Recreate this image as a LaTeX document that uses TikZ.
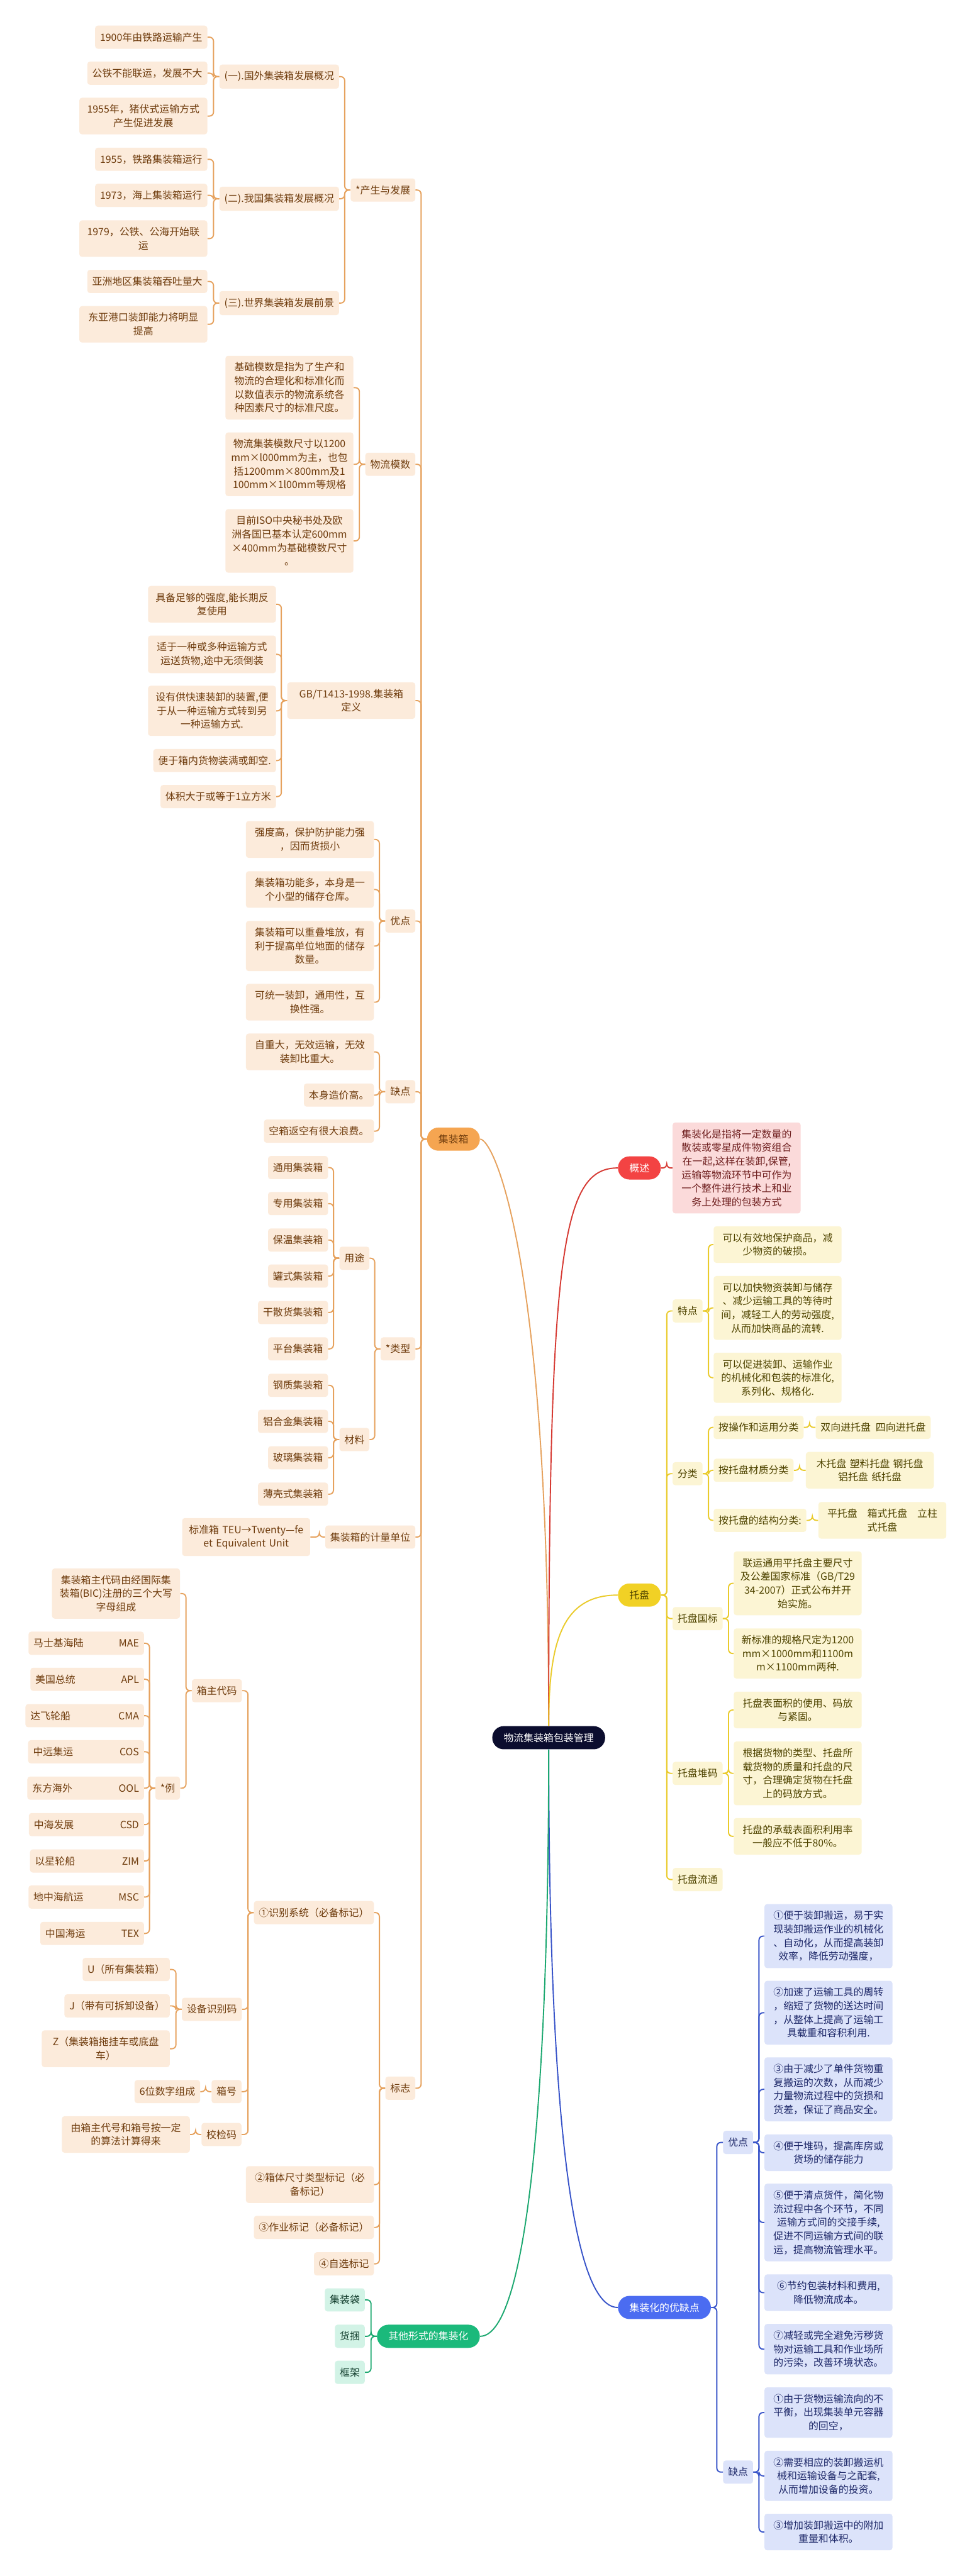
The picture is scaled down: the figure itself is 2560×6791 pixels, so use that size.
\documentclass[tikz,border=0pt]{standalone}
\usepackage{fontspec}
\setmainfont{Noto Sans CJK SC}

\definecolor{rootc}{HTML}{0B0D2E}
\definecolor{orgline}{HTML}{E6A25E}
\definecolor{orgfill}{HTML}{FCEBDB}
\definecolor{orgtext}{HTML}{6E3B0C}
\definecolor{orgpill}{HTML}{F5A551}
\definecolor{redline}{HTML}{D63A33}
\definecolor{redpill}{HTML}{F34343}
\definecolor{redfill}{HTML}{FBDADA}
\definecolor{redtext}{HTML}{6E1E1E}
\definecolor{yelline}{HTML}{EACB2C}
\definecolor{yelpill}{HTML}{F1D125}
\definecolor{yelfill}{HTML}{FCF5D4}
\definecolor{yeltext}{HTML}{4F4400}
\definecolor{bluline}{HTML}{3854C9}
\definecolor{blupill}{HTML}{4B6CF1}
\definecolor{blufill}{HTML}{DCE3FA}
\definecolor{blutext}{HTML}{1D2768}
\definecolor{grnline}{HTML}{1CA870}
\definecolor{grnpill}{HTML}{1BB97B}
\definecolor{grnfill}{HTML}{D2F3E6}
\definecolor{grntext}{HTML}{0F3B2A}

\tikzset{
  box/.style={rounded corners=2pt, inner xsep=0.13cm, inner ysep=0.18cm,
    minimum height=0.61cm, align=center, font=\fontsize{7.5}{10.2}\selectfont},
  wbox/.style={text width=3.11cm},
  pill/.style={box, rounded corners=0.3cm, inner xsep=0.3cm},
  orleaf/.style={box, anchor=east, fill=orgfill, text=orgtext},
  grleaf/.style={box, anchor=east, fill=grnfill, text=grntext},
  rdleaf/.style={box, anchor=west, fill=redfill, text=redtext},
  yeleaf/.style={box, anchor=west, fill=yelfill, text=yeltext},
  buleaf/.style={box, anchor=west, fill=blufill, text=blutext},
  orlink/.style={draw=orgline, line width=0.9pt, rounded corners=3pt},
  rdlink/.style={draw=redline, line width=0.9pt, rounded corners=3pt},
  yelink/.style={draw=yelline, line width=0.9pt, rounded corners=3pt},
  bulink/.style={draw=bluline, line width=0.9pt, rounded corners=3pt},
  grlink/.style={draw=grnline, line width=0.9pt, rounded corners=3pt},
}
\newcommand{\linkL}[3]{\draw[#1] (#2.west) -- ++(-15,0) |- (#3.east);}
\newcommand{\linkR}[3]{\draw[#1] (#2.east) -- ++(15,0) |- (#3.west);}
\newcommand{\cmp}[3][2.78cm]{\makebox[#1]{#2\hfill #3}}

\begin{document}
\begin{tikzpicture}[x=0.01cm, y=-0.01cm]
	\fill[white] (0,0) rectangle (2560,6791);
	\useasboundingbox (0,0) rectangle (2560,6791);

	% root and main branches
	\node (root) at (1446,4581) [pill, fill=rootc, text=white] {物流集装箱包装管理};
	\node (jzx) at (1195,3003) [pill, fill=orgpill, text=orgtext] {集装箱};
	\node (qt) at (1129,6159) [pill, fill=grnpill, text=white] {其他形式的集装化};
	\node (gs) at (1685,3079) [pill, fill=redpill, text=white] {概述};
	\node (tp) at (1685,4205) [pill, fill=yelpill, text=yeltext] {托盘};
	\node (yqd) at (1751,6083) [pill, fill=blupill, text=white] {集装化的优缺点};

	% 集装箱
	\node (cs) at (1095,501) [orleaf] {*产生与发展};
	\node (mo) at (1095,1224) [orleaf] {物流模数};
	\node (gb) at (1095,1847) [orleaf, wbox] {GB/T1413-1998.集装箱\\定义};
	\node (yd) at (1095,2428) [orleaf] {优点};
	\node (qd) at (1095,2878) [orleaf] {缺点};
	\node (lx) at (1095,3556) [orleaf] {*类型};
	\node (jl) at (1095,4052) [orleaf] {集装箱的计量单位};
	\node (bz) at (1095,5505) [orleaf] {标志};

	\node (gw) at (894,202) [orleaf] {(一).国外集装箱发展概况};
	\node (wg) at (894,524) [orleaf] {(二).我国集装箱发展概况};
	\node (sj) at (894,799) [orleaf] {(三).世界集装箱发展前景};
	\node (a1) at (547,98) [orleaf] {1900年由铁路运输产生};
	\node (a2) at (547,193) [orleaf] {公铁不能联运，发展不大};
	\node (a3) at (547,306) [orleaf, wbox] {1955年，猪伏式运输方式\\产生促进发展};
	\node (b1) at (547,420) [orleaf] {1955，铁路集装箱运行};
	\node (b2) at (547,515) [orleaf] {1973，海上集装箱运行};
	\node (b3) at (547,629) [orleaf, wbox] {1979，公铁、公海开始联\\运};
	\node (c1) at (547,742) [orleaf] {亚洲地区集装箱吞吐量大};
	\node (c2) at (547,855) [orleaf, wbox] {东亚港口装卸能力将明显\\提高};

	\node (m1) at (932,1022) [orleaf, wbox] {基础模数是指为了生产和\\物流的合理化和标准化而\\以数值表示的物流系统各\\种因素尺寸的标准尺度。};
	\node (m2) at (932,1224) [orleaf, wbox] {物流集装模数尺寸以1200\\mm×l000mm为主，也包\\括1200mm×800mm及1\\100mm×1l00mm等规格};
	\node (m3) at (932,1426) [orleaf, wbox] {目前ISO中央秘书处及欧\\洲各国已基本认定600mm\\×400mm为基础模数尺寸\\。};

	\node (g1) at (728,1593) [orleaf, wbox] {具备足够的强度,能长期反\\复使用};
	\node (g2) at (728,1725) [orleaf, wbox] {适于一种或多种运输方式\\运送货物,途中无须倒装};
	\node (g3) at (728,1874) [orleaf, wbox] {设有供快速装卸的装置,便\\于从一种运输方式转到另\\一种运输方式.};
	\node (g4) at (728,2005) [orleaf] {便于箱内货物装满或卸空.};
	\node (g5) at (728,2100) [orleaf] {体积大于或等于1立方米};

	\node (y1) at (986,2213) [orleaf, wbox] {强度高，保护防护能力强\\，因而货损小};
	\node (y2) at (986,2345) [orleaf, wbox] {集装箱功能多，本身是一\\个小型的储存仓库。};
	\node (y3) at (986,2494) [orleaf, wbox] {集装箱可以重叠堆放，有\\利于提高单位地面的储存\\数量。};
	\node (y4) at (986,2642) [orleaf, wbox] {可统一装卸，通用性，互\\换性强。};
	\node (q1) at (986,2773) [orleaf, wbox] {自重大，无效运输，无效\\装卸比重大。};
	\node (q2) at (986,2887) [orleaf] {本身造价高。};
	\node (q3) at (986,2982) [orleaf] {空箱返空有很大浪费。};

	\node (yt) at (974,3317) [orleaf] {用途};
	\node (cl) at (974,3795) [orleaf] {材料};
	\node (ty1) at (865,3078) [orleaf] {通用集装箱};
	\node (ty2) at (865,3173) [orleaf] {专用集装箱};
	\node (ty3) at (865,3269) [orleaf] {保温集装箱};
	\node (ty4) at (865,3364) [orleaf] {罐式集装箱};
	\node (ty5) at (865,3460) [orleaf] {干散货集装箱};
	\node (ty6) at (865,3556) [orleaf] {平台集装箱};
	\node (cz1) at (865,3652) [orleaf] {钢质集装箱};
	\node (cz2) at (865,3747) [orleaf] {铝合金集装箱};
	\node (cz3) at (865,3843) [orleaf] {玻璃集装箱};
	\node (cz4) at (865,3939) [orleaf] {薄壳式集装箱};

	\node (teu) at (818,4052) [orleaf, wbox] {标准箱 TEU→Twenty—fe\\et Equivalent Unit};

	\node (sb) at (986,5042) [orleaf] {①识别系统（必备标记）};
	\node (ct) at (986,5759) [orleaf, wbox] {②箱体尺寸类型标记（必\\备标记）};
	\node (zy) at (986,5872) [orleaf] {③作业标记（必备标记）};
	\node (zx) at (986,5968) [orleaf] {④自选标记};
	\node (xz) at (638,4457) [orleaf] {箱主代码};
	\node (sbm) at (638,5297) [orleaf] {设备识别码};
	\node (xh) at (637,5514) [orleaf] {箱号};
	\node (jy) at (637,5627) [orleaf] {校检码};
	\node (zdm) at (475,4201) [orleaf, wbox] {集装箱主代码由经国际集\\装箱(BIC)注册的三个大写\\字母组成};
	\node (li) at (475,4714) [orleaf] {*例};
	\node (mae) at (380,4332) [orleaf] {\cmp{马士基海陆}{MAE}};
	\node (apl) at (380,4427) [orleaf] {\cmp[2.73cm]{美国总统}{APL}};
	\node (cma) at (380,4523) [orleaf] {\cmp[2.86cm]{达飞轮船}{CMA}};
	\node (cos) at (380,4618) [orleaf] {\cmp[2.79cm]{中远集运}{COS}};
	\node (ool) at (380,4714) [orleaf] {\cmp[2.81cm]{东方海外}{OOL}};
	\node (csd) at (380,4810) [orleaf] {\cmp[2.77cm]{中海发展}{CSD}};
	\node (zim) at (380,4906) [orleaf] {\cmp[2.74cm]{以星轮船}{ZIM}};
	\node (msc) at (380,5001) [orleaf] {\cmp{地中海航运}{MSC}};
	\node (tex) at (380,5097) [orleaf] {\cmp[2.47cm]{中国海运}{TEX}};
	\node (ue) at (448,5192) [orleaf] {U（所有集装箱）};
	\node (je) at (448,5288) [orleaf] {J（带有可拆卸设备）};
	\node (ze) at (448,5401) [orleaf, wbox] {Z（集装箱拖挂车或底盘\\车）};
	\node (sw) at (528,5514) [orleaf] {6位数字组成};
	\node (sf) at (501,5627) [orleaf, wbox] {由箱主代号和箱号按一定\\的算法计算得来};

	% 其他形式的集装化
	\node (dai) at (962,6063) [grleaf] {集装袋};
	\node (kun) at (962,6159) [grleaf] {货捆};
	\node (kj) at (962,6254) [grleaf] {框架};

	% 概述
	\node (gsz) at (1772,3079) [rdleaf, wbox] {集装化是指将一定数量的\\散装或零星成件物资组合\\在一起,这样在装卸,保管,\\运输等物流环节中可作为\\一个整件进行技术上和业\\务上处理的包装方式};

	% 托盘
	\node (td) at (1772,3456) [yeleaf] {特点};
	\node (fl) at (1772,3885) [yeleaf] {分类};
	\node (gbz) at (1772,4267) [yeleaf] {托盘国标};
	\node (dm) at (1772,4675) [yeleaf] {托盘堆码};
	\node (lt) at (1772,4955) [yeleaf] {托盘流通};
	\node (t1) at (1880,3281) [yeleaf, wbox] {可以有效地保护商品，减\\少物资的破损。};
	\node (t2) at (1880,3448) [yeleaf, wbox] {可以加快物资装卸与储存\\、减少运输工具的等待时\\间，减轻工人的劳动强度,\\从而加快商品的流转.};
	\node (t3) at (1880,3632) [yeleaf, wbox] {可以促进装卸、运输作业\\的机械化和包装的标准化,\\系列化、规格化.};
	\node (f1) at (1880,3763) [yeleaf] {按操作和运用分类};
	\node (f2) at (1880,3876) [yeleaf] {按托盘材质分类};
	\node (f3) at (1880,4008) [yeleaf] {按托盘的结构分类:};
	\node (f1a) at (2149,3763) [yeleaf] {双向进托盘\enspace 四向进托盘};
	\node (f2a) at (2123,3876) [yeleaf, wbox] {木托盘 塑料托盘 钢托盘\\铝托盘 纸托盘};
	\node (f3a) at (2156,4008) [yeleaf, wbox] {平托盘\quad 箱式托盘\quad 立柱\\式托盘};
	\node (p1) at (1933,4174) [yeleaf, wbox] {联运通用平托盘主要尺寸\\及公差国家标准（GB/T29\\34-2007）正式公布并开\\始实施。};
	\node (p2) at (1933,4359) [yeleaf, wbox] {新标准的规格尺定为1200\\mm×1000mm和1100m\\m×1100mm两种.};
	\node (d1) at (1933,4508) [yeleaf, wbox] {托盘表面积的使用、码放\\与紧固。};
	\node (d2) at (1933,4675) [yeleaf, wbox] {根据货物的类型、托盘所\\载货物的质量和托盘的尺\\寸，合理确定货物在托盘\\上的码放方式。};
	\node (d3) at (1933,4841) [yeleaf, wbox] {托盘的承载表面积利用率\\一般应不低于80\%。};

	% 集装化的优缺点
	\node (byd) at (1905,5648) [buleaf] {优点};
	\node (bqd) at (1905,6517) [buleaf] {缺点};
	\node (w1) at (2014,5104) [buleaf, wbox] {①便于装卸搬运，易于实\\现装卸搬运作业的机械化\\、自动化，从而提高装卸\\效率，降低劳动强度，};
	\node (w2) at (2014,5306) [buleaf, wbox] {②加速了运输工具的周转\\，缩短了货物的送达时间\\，从整体上提高了运输工\\具载重和容积利用.};
	\node (w3) at (2014,5508) [buleaf, wbox] {③由于减少了单件货物重\\复搬运的次数，从而减少\\力量物流过程中的货损和\\货差，保证了商品安全。};
	\node (w4) at (2014,5675) [buleaf, wbox] {④便于堆码，提高库房或\\货场的储存能力};
	\node (w5) at (2014,5859) [buleaf, wbox] {⑤便于清点货件，简化物\\流过程中各个环节，不同\\运输方式间的交接手续,\\促进不同运输方式间的联\\运，提高物流管理水平。};
	\node (w6) at (2014,6044) [buleaf, wbox] {⑥节约包装材料和费用,\\降低物流成本。};
	\node (w7) at (2014,6193) [buleaf, wbox] {⑦减轻或完全避免污秽货\\物对运输工具和作业场所\\的污染，改善环境状态。};
	\node (v1) at (2014,6360) [buleaf, wbox] {①由于货物运输流向的不\\平衡，出现集装单元容器\\的回空，};
	\node (v2) at (2014,6527) [buleaf, wbox] {②需要相应的装卸搬运机\\械和运输设备与之配套,\\从而增加设备的投资。};
	\node (v3) at (2014,6675) [buleaf, wbox] {③增加装卸搬运中的附加\\重量和体积。};

	% root curves
	\draw[orlink] (root.north) .. controls (1446,3300) and (1300,3003) .. (jzx.east);
	\draw[rdlink] (root.north) .. controls (1446,3300) and (1480,3079) .. (gs.west);
	\draw[yelink] (root.north) .. controls (1446,4330) and (1480,4205) .. (tp.west);
	\draw[bulink] (root.south) .. controls (1446,5500) and (1500,6083) .. (yqd.west);
	\draw[grlink] (root.south) .. controls (1446,5600) and (1380,6159) .. (qt.east);

	% 集装箱 links
	\linkL{orlink}{jzx}{cs}
	\linkL{orlink}{jzx}{mo}
	\linkL{orlink}{jzx}{gb}
	\linkL{orlink}{jzx}{yd}
	\linkL{orlink}{jzx}{qd}
	\linkL{orlink}{jzx}{lx}
	\linkL{orlink}{jzx}{jl}
	\linkL{orlink}{jzx}{bz}
	\linkL{orlink}{cs}{gw}
	\linkL{orlink}{cs}{wg}
	\linkL{orlink}{cs}{sj}
	\linkL{orlink}{gw}{a1}
	\linkL{orlink}{gw}{a2}
	\linkL{orlink}{gw}{a3}
	\linkL{orlink}{wg}{b1}
	\linkL{orlink}{wg}{b2}
	\linkL{orlink}{wg}{b3}
	\linkL{orlink}{sj}{c1}
	\linkL{orlink}{sj}{c2}
	\linkL{orlink}{mo}{m1}
	\linkL{orlink}{mo}{m2}
	\linkL{orlink}{mo}{m3}
	\linkL{orlink}{gb}{g1}
	\linkL{orlink}{gb}{g2}
	\linkL{orlink}{gb}{g3}
	\linkL{orlink}{gb}{g4}
	\linkL{orlink}{gb}{g5}
	\linkL{orlink}{yd}{y1}
	\linkL{orlink}{yd}{y2}
	\linkL{orlink}{yd}{y3}
	\linkL{orlink}{yd}{y4}
	\linkL{orlink}{qd}{q1}
	\linkL{orlink}{qd}{q2}
	\linkL{orlink}{qd}{q3}
	\linkL{orlink}{lx}{yt}
	\linkL{orlink}{lx}{cl}
	\linkL{orlink}{yt}{ty1}
	\linkL{orlink}{yt}{ty2}
	\linkL{orlink}{yt}{ty3}
	\linkL{orlink}{yt}{ty4}
	\linkL{orlink}{yt}{ty5}
	\linkL{orlink}{yt}{ty6}
	\linkL{orlink}{cl}{cz1}
	\linkL{orlink}{cl}{cz2}
	\linkL{orlink}{cl}{cz3}
	\linkL{orlink}{cl}{cz4}
	\linkL{orlink}{jl}{teu}
	\linkL{orlink}{bz}{sb}
	\linkL{orlink}{bz}{ct}
	\linkL{orlink}{bz}{zy}
	\linkL{orlink}{bz}{zx}
	\linkL{orlink}{sb}{xz}
	\linkL{orlink}{sb}{sbm}
	\linkL{orlink}{sb}{xh}
	\linkL{orlink}{sb}{jy}
	\linkL{orlink}{xz}{zdm}
	\linkL{orlink}{xz}{li}
	\linkL{orlink}{li}{mae}
	\linkL{orlink}{li}{apl}
	\linkL{orlink}{li}{cma}
	\linkL{orlink}{li}{cos}
	\linkL{orlink}{li}{ool}
	\linkL{orlink}{li}{csd}
	\linkL{orlink}{li}{zim}
	\linkL{orlink}{li}{msc}
	\linkL{orlink}{li}{tex}
	\linkL{orlink}{sbm}{ue}
	\linkL{orlink}{sbm}{je}
	\linkL{orlink}{sbm}{ze}
	\linkL{orlink}{xh}{sw}
	\linkL{orlink}{jy}{sf}

	% 其他 links
	\linkL{grlink}{qt}{dai}
	\linkL{grlink}{qt}{kun}
	\linkL{grlink}{qt}{kj}

	% 概述 link
	\linkR{rdlink}{gs}{gsz}

	% 托盘 links
	\linkR{yelink}{tp}{td}
	\linkR{yelink}{tp}{fl}
	\linkR{yelink}{tp}{gbz}
	\linkR{yelink}{tp}{dm}
	\linkR{yelink}{tp}{lt}
	\linkR{yelink}{td}{t1}
	\linkR{yelink}{td}{t2}
	\linkR{yelink}{td}{t3}
	\linkR{yelink}{fl}{f1}
	\linkR{yelink}{fl}{f2}
	\linkR{yelink}{fl}{f3}
	\linkR{yelink}{f1}{f1a}
	\linkR{yelink}{f2}{f2a}
	\linkR{yelink}{f3}{f3a}
	\linkR{yelink}{gbz}{p1}
	\linkR{yelink}{gbz}{p2}
	\linkR{yelink}{dm}{d1}
	\linkR{yelink}{dm}{d2}
	\linkR{yelink}{dm}{d3}

	% 优缺点 links
	\linkR{bulink}{yqd}{byd}
	\linkR{bulink}{yqd}{bqd}
	\linkR{bulink}{byd}{w1}
	\linkR{bulink}{byd}{w2}
	\linkR{bulink}{byd}{w3}
	\linkR{bulink}{byd}{w4}
	\linkR{bulink}{byd}{w5}
	\linkR{bulink}{byd}{w6}
	\linkR{bulink}{byd}{w7}
	\linkR{bulink}{bqd}{v1}
	\linkR{bulink}{bqd}{v2}
	\linkR{bulink}{bqd}{v3}
\end{tikzpicture}
\end{document}
